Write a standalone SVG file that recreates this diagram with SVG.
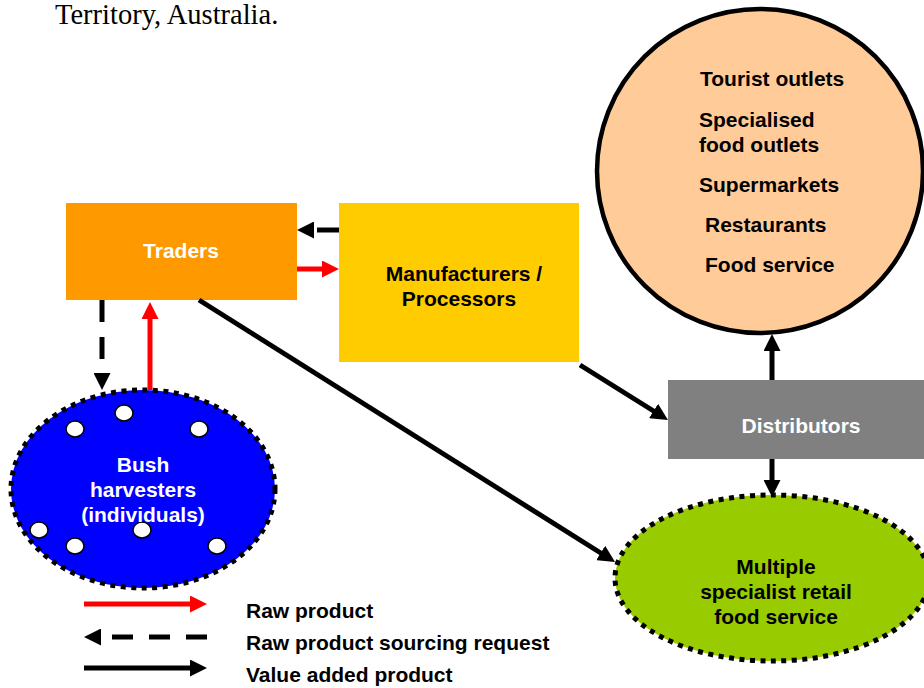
<svg xmlns="http://www.w3.org/2000/svg" width="924" height="688" viewBox="0 0 924 688">
  <style>
    .lbl { font-family: "Liberation Sans", Arial, sans-serif; font-weight: bold; font-size: 21px; }
    .w { fill: #ffffff; }
    .k { fill: #000000; }
    .mid { text-anchor: middle; }
    .title { font-family: "Liberation Serif", "Times New Roman", serif; font-size: 28.5px; fill: #000; }
    .raw { stroke: #ff0000; stroke-width: 5; fill: none; }
    .req { stroke: #000; stroke-width: 5; fill: none; stroke-dasharray: 22 15; }
    .val { stroke: #000; stroke-width: 5; fill: none; }
    .dotted { stroke: #000; stroke-width: 5; stroke-dasharray: 5 5.5; }
    .dot { fill: #ffffff; stroke: #000; stroke-width: 1.5; }
  </style>
  <defs>
    <marker id="headRed" markerUnits="userSpaceOnUse" markerWidth="17" markerHeight="17" refX="1" refY="8.5" orient="auto">
      <path d="M0,0 L17,8.5 L0,17 Z" fill="#ff0000"/>
    </marker>
    <marker id="headBlack" markerUnits="userSpaceOnUse" markerWidth="17" markerHeight="17" refX="1" refY="8.5" orient="auto">
      <path d="M0,0 L17,8.5 L0,17 Z" fill="#000000"/>
    </marker>
  </defs>

  <rect width="924" height="688" fill="#ffffff"/>

  <text class="title" x="55" y="23.5">Territory, Australia.</text>

  <g id="outlets">
    <ellipse cx="760" cy="171" rx="163" ry="162" fill="#ffcc99" stroke="#000" stroke-width="4.5"/>
    <text class="lbl k" x="700" y="86">Tourist outlets</text>
    <text class="lbl k" x="699" y="127">Specialised</text>
    <text class="lbl k" x="699" y="152">food outlets</text>
    <text class="lbl k" x="699" y="192">Supermarkets</text>
    <text class="lbl k" x="705" y="232">Restaurants</text>
    <text class="lbl k" x="705" y="272">Food service</text>
  </g>

  <g id="traders">
    <rect x="66" y="203" width="231" height="97" fill="#ff9900"/>
    <text class="lbl w mid" x="181" y="258">Traders</text>
  </g>

  <g id="manufacturers">
    <rect x="339" y="203" width="240" height="159" fill="#ffcc00"/>
    <text class="lbl k mid" x="464" y="281">Manufacturers /</text>
    <text class="lbl k mid" x="459" y="306">Processors</text>
  </g>

  <g id="distributors">
    <rect x="668" y="380" width="256" height="79" fill="#808080"/>
    <text class="lbl w mid" x="801" y="433">Distributors</text>
  </g>

  <g id="harvesters">
    <ellipse cx="143" cy="489" rx="132" ry="99" fill="#0000ff" class="dotted"/>
    <ellipse class="dot" cx="124" cy="413" rx="9" ry="8"/>
    <ellipse class="dot" cx="75" cy="429" rx="9" ry="8"/>
    <ellipse class="dot" cx="199" cy="429" rx="9" ry="8"/>
    <ellipse class="dot" cx="39" cy="530" rx="9" ry="8"/>
    <ellipse class="dot" cx="142" cy="530" rx="9" ry="8"/>
    <ellipse class="dot" cx="75" cy="546" rx="9" ry="8"/>
    <ellipse class="dot" cx="217" cy="546" rx="9" ry="8"/>
    <text class="lbl w mid" x="143" y="472">Bush</text>
    <text class="lbl w mid" x="143" y="497">harvesters</text>
    <text class="lbl w mid" x="143" y="522">(individuals)</text>
  </g>

  <g id="retail">
    <ellipse cx="772" cy="578" rx="157" ry="83" fill="#99cc00" class="dotted"/>
    <text class="lbl k mid" x="776" y="574">Multiple</text>
    <text class="lbl k mid" x="776" y="599">specialist retail</text>
    <text class="lbl k mid" x="776" y="624">food service</text>
  </g>

  <g id="connectors">
    <!-- sourcing requests (dashed) -->
    <line class="req" x1="339" y1="230" x2="313" y2="230" marker-end="url(#headBlack)"/>
    <line class="req" x1="102" y1="300" x2="102" y2="374" marker-end="url(#headBlack)"/>
    <!-- raw product (red) -->
    <line class="raw" x1="297" y1="269" x2="323" y2="269" marker-end="url(#headRed)"/>
    <line class="raw" x1="150" y1="390" x2="150" y2="318" marker-end="url(#headRed)"/>
    <!-- value added product (solid black) -->
    <line class="val" x1="199" y1="300" x2="601.5" y2="553.5" marker-end="url(#headBlack)"/>
    <line class="val" x1="580" y1="365" x2="654.4" y2="411.5" marker-end="url(#headBlack)"/>
    <line class="val" x1="772" y1="380" x2="772" y2="350" marker-end="url(#headBlack)"/>
    <line class="val" x1="772" y1="459" x2="772" y2="481" marker-end="url(#headBlack)"/>
  </g>

  <g id="legend">
    <line class="raw" x1="84" y1="604" x2="191" y2="604" marker-end="url(#headRed)"/>
    <line class="req" x1="207" y1="637" x2="100" y2="637" style="stroke-dasharray: 21 16" marker-end="url(#headBlack)"/>
    <line class="val" x1="84" y1="668" x2="191" y2="668" marker-end="url(#headBlack)"/>
    <text class="lbl k" x="246" y="618">Raw product</text>
    <text class="lbl k" x="246" y="650">Raw product sourcing request</text>
    <text class="lbl k" x="246" y="682">Value added product</text>
  </g>
</svg>
